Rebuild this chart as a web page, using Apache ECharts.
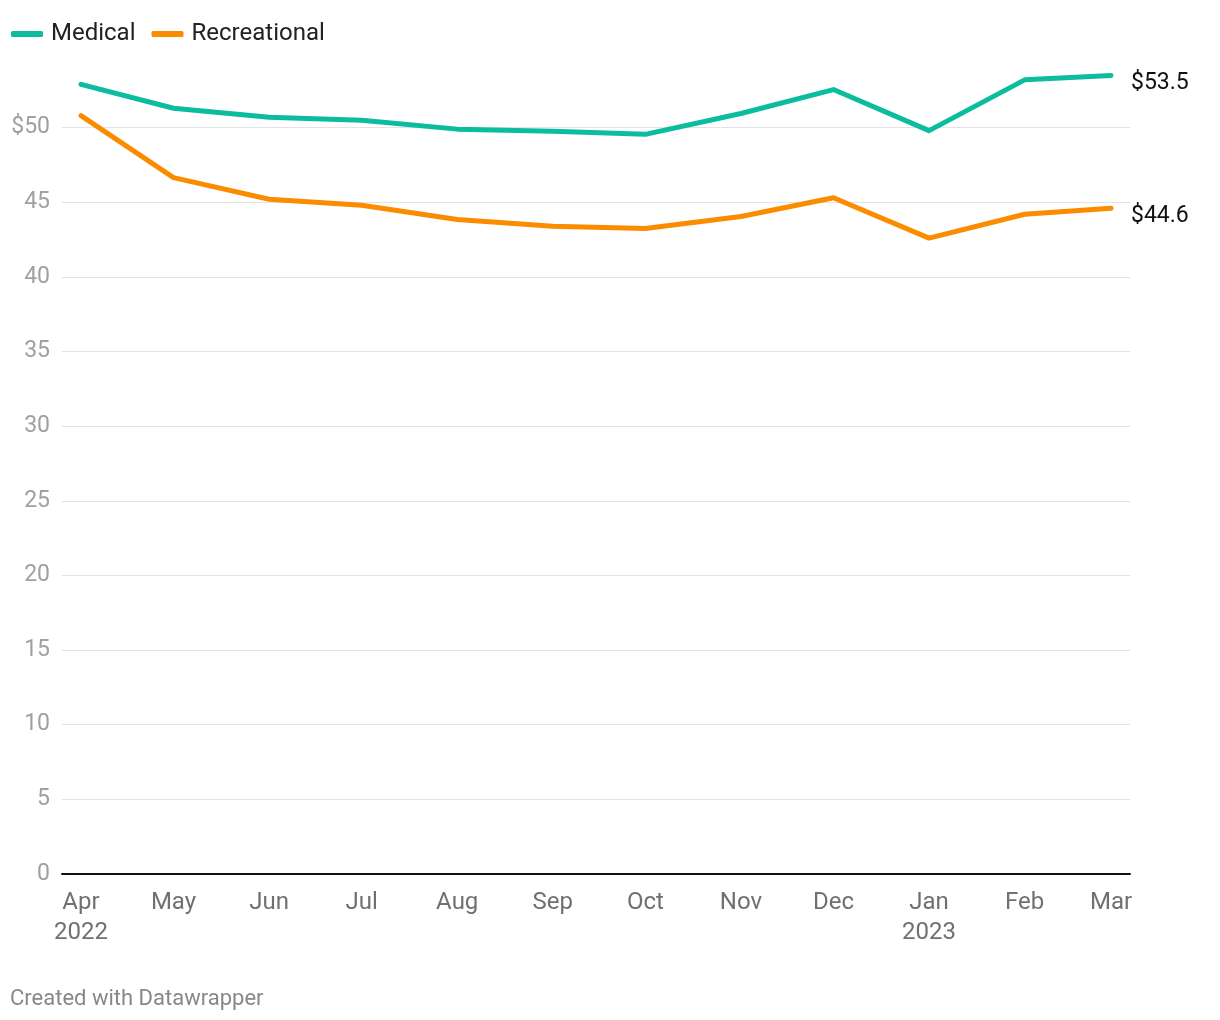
<!DOCTYPE html>
<html>
<head>
<meta charset="utf-8">
<script src="https://cdn.jsdelivr.net/npm/echarts@6/dist/echarts.min.js"></script>
<style>
html,body{margin:0;padding:0;background:#fff;}
#chart{width:1220px;height:1020px;}
</style>
</head>
<body>
<div id="chart"></div>
<script>
const dates = ['2022-04-01','2022-05-01','2022-06-01','2022-07-01','2022-08-01','2022-09-01','2022-10-01','2022-11-01','2022-12-01','2023-01-01','2023-02-01','2023-03-01'];
const monthNames = ['Jan','Feb','Mar','Apr','May','Jun','Jul','Aug','Sep','Oct','Nov','Dec'];
const yearLabelMonths = ['2022-04', '2023-01'];
const medical = [52.9, 51.3, 50.7, 50.5, 49.9, 49.75, 49.55, 50.95, 52.55, 49.8, 53.2, 53.5];
const recreational = [50.8, 46.65, 45.2, 44.8, 43.85, 43.4, 43.25, 44.05, 45.3, 42.6, 44.2, 44.6];
const yTicks = [0, 5, 10, 15, 20, 25, 30, 35, 40, 45, 50, 55];

const chart = echarts.init(document.getElementById('chart'));
const font = 'Roboto, "Noto Sans", sans-serif';
const splitColors = yTicks.map((v, i) => (i === 0 || i === yTicks.length - 1) ? 'rgba(0,0,0,0)' : '#e3e3e3');
const toTime = d => new Date(d + 'T00:00:00').getTime();
const DAY = 86400000;

chart.setOption({
  animation: false,
  textStyle: {fontFamily: font},
  legend: {
    left: 6, top: 17,
    itemWidth: 32, itemHeight: 6, itemGap: 16,
    icon: 'roundRect',
    textStyle: {fontSize: 24, color: '#222', fontFamily: font, padding: [0, 0, 0, 3]},
    data: ['Medical', 'Recreational']
  },
  graphic: [{
    type: 'text', left: 10, top: 988,
    style: {text: 'Created with Datawrapper', fontSize: 22, fill: '#888', fontFamily: font}
  }],
  grid: [
    {left: 81, right: 109, top: 53, bottom: 146},
    {left: 62, right: 90, top: 53, bottom: 146}
  ],
  xAxis: [
    {
      gridIndex: 0, type: 'time',
      min: toTime(dates[0]), max: toTime(dates[dates.length - 1]),
      minInterval: 28 * DAY, maxInterval: 31 * DAY,
      axisLine: {show: false}, axisTick: {show: false}, splitLine: {show: false},
      axisLabel: {
        fontSize: 24, color: '#707070', margin: 14, lineHeight: 30, fontFamily: font,
        showMinLabel: true, showMaxLabel: true, hideOverlap: false,
        formatter: v => {
          const d = new Date(v);
          const key = d.getFullYear() + '-' + String(d.getMonth() + 1).padStart(2, '0');
          const m = monthNames[d.getMonth()];
          return yearLabelMonths.includes(key) ? m + '\n' + d.getFullYear() : m;
        }
      }
    },
    {
      gridIndex: 1, type: 'value', min: 0, max: 1,
      axisLine: {show: true, onZero: false, lineStyle: {color: '#111', width: 2}},
      axisTick: {show: false}, axisLabel: {show: false}, splitLine: {show: false}
    }
  ],
  yAxis: [
    {
      gridIndex: 0, type: 'value', min: 0, max: 55, interval: 5,
      show: false, splitLine: {show: false}
    },
    {
      gridIndex: 1, type: 'value', min: 0, max: 55, interval: 5,
      axisLine: {show: false}, axisTick: {show: false},
      axisLabel: {
        fontSize: 23, color: '#a0a0a0', margin: 12, fontFamily: font,
        showMaxLabel: false, padding: [6, 0, 0, 0],
        formatter: v => v === 50 ? '$50' : (v === 55 ? '' : String(v))
      },
      splitLine: {show: true, lineStyle: {color: splitColors, width: 1}}
    }
  ],
  series: [
    {
      name: 'Medical', type: 'line', xAxisIndex: 0, yAxisIndex: 0,
      data: dates.map((d, i) => [toTime(d), medical[i]]), showSymbol: false, symbol: 'none',
      lineStyle: {width: 5, color: '#0bbd9e', cap: 'round', join: 'round'},
      itemStyle: {color: '#0bbd9e'},
      endLabel: {show: true, formatter: p => '$' + p.value[1], fontSize: 23, color: '#111', distance: 20, offset: [0, 8], fontFamily: font}
    },
    {
      name: 'Recreational', type: 'line', xAxisIndex: 0, yAxisIndex: 0,
      data: dates.map((d, i) => [toTime(d), recreational[i]]), showSymbol: false, symbol: 'none',
      lineStyle: {width: 5, color: '#fb8c00', cap: 'round', join: 'round'},
      itemStyle: {color: '#fb8c00'},
      endLabel: {show: true, formatter: p => '$' + p.value[1], fontSize: 23, color: '#111', distance: 20, offset: [0, 8], fontFamily: font}
    }
  ]
});
</script>
</body>
</html>
